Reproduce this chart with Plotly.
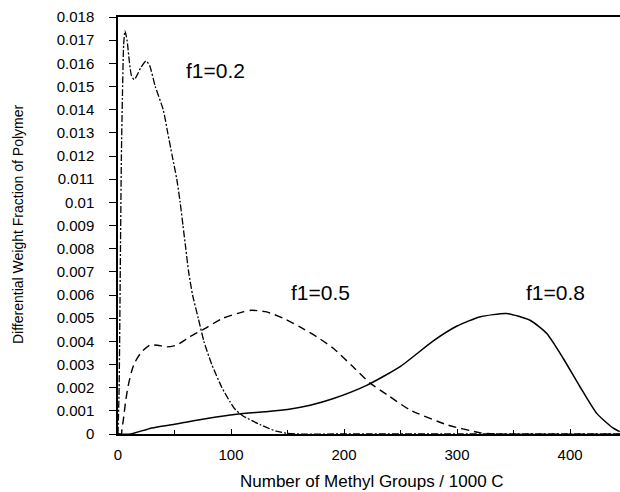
import plotly.graph_objects as go

# f1 = 0.2 (dash-dot)
x_f02 = [0, 1, 2, 3, 4, 5, 6.2, 8, 10, 12, 14.4, 17, 20, 24.8, 28, 33, 40, 44, 48, 52, 55,
         57.5, 60, 62.5, 66, 71, 76, 83, 92, 99, 103, 110, 126, 140, 150, 160, 200, 300, 444]
y_f02 = [0, 0.002, 0.007, 0.012, 0.0148, 0.0168, 0.0174, 0.0170, 0.0161, 0.01545, 0.0153,
         0.0155, 0.0158, 0.0161, 0.0159, 0.0150, 0.0140, 0.0130, 0.0120, 0.0110, 0.0100,
         0.0090, 0.0080, 0.0070, 0.0060, 0.0050, 0.0040, 0.0030, 0.0020, 0.0014, 0.0011,
         0.0008, 0.0004, 0.00012, 0.00003, 0, 0, 0, 0]

# f1 = 0.5 (dashed)
x_f05 = [0, 3, 3.5, 4.7, 7, 9.1, 12, 15, 21, 28.3, 35, 43, 52, 63.7, 75, 93, 110.6, 118,
         131.6, 146, 161, 175.8, 190.5, 208, 223, 238, 258, 291, 320, 335, 444]
y_f05 = [0, 0, 0.0002, 0.0006, 0.0015, 0.0021, 0.0027, 0.0031, 0.00355, 0.00384, 0.00383,
         0.00376, 0.00384, 0.0042, 0.0045, 0.0050, 0.00527, 0.00534, 0.00527, 0.0050,
         0.00462, 0.0042, 0.0037, 0.0029, 0.0022, 0.0017, 0.00105, 0.0004, 0.00006, 0, 0]

# f1 = 0.8 (solid)
x_f08 = [0, 11, 30, 50, 80, 105, 130, 150, 170, 190, 220, 250, 279, 300, 320,
         344, 364.6, 379.4, 394, 408.8, 423.6, 438.3, 444]
y_f08 = [0, 0, 0.00026, 0.00042, 0.00068, 0.00085, 0.00096, 0.00106, 0.00124, 0.00152,
         0.0021, 0.00292, 0.00402, 0.00466, 0.00505, 0.0052, 0.00491, 0.00434, 0.00326,
         0.00204, 0.00089, 0.00025, 0.0001]

y_tick_vals = [0, 0.001, 0.002, 0.003, 0.004, 0.005, 0.006, 0.007, 0.008, 0.009, 0.01,
               0.011, 0.012, 0.013, 0.014, 0.015, 0.016, 0.017, 0.018]
y_tick_text = ["0", "0.001", "0.002", "0.003", "0.004", "0.005", "0.006", "0.007", "0.008",
               "0.009", "0.01", "0.011", "0.012", "0.013", "0.014", "0.015", "0.016",
               "0.017", "0.018"]
x_tick_vals = [0, 100, 200, 300, 400]
x_tick_text = ["0", "100", "200", "300", "400"]

labels = ["f1=0.2", "f1=0.5", "f1=0.8"]
lab_x = [86, 179, 387.5]
lab_y = [0.0157, 0.0061, 0.0061]

FONT = "Liberation Sans, Arial, sans-serif"

fig = go.Figure()
fig.add_trace(go.Scatter(x=x_f02, y=y_f02, mode="lines",
                         line=dict(color="black", width=1.3, dash="7px,2px,2px,2px",
                                   shape="spline", smoothing=0.6)))
fig.add_trace(go.Scatter(x=x_f05, y=y_f05, mode="lines",
                         line=dict(color="black", width=1.4, dash="8px,5px",
                                   shape="spline", smoothing=0.6)))
fig.add_trace(go.Scatter(x=x_f08, y=y_f08, mode="lines",
                         line=dict(color="black", width=1.5,
                                   shape="spline", smoothing=0.6)))

for t, lx, ly in zip(labels, lab_x, lab_y):
    fig.add_annotation(x=lx, y=ly, text=t, showarrow=False,
                       font=dict(family=FONT, size=21, color="black"))

fig.add_annotation(xref="paper", yref="paper", x=(18 - 118) / 502, y=(434 - 225) / 417,
                   xanchor="center", yanchor="middle",
                   text="Differential Weight Fraction of Polymer", textangle=-90,
                   showarrow=False, font=dict(family=FONT, size=14, color="black"))
fig.add_annotation(xref="paper", yref="paper", x=(372 - 118) / 502, y=(434 - 481) / 417,
                   xanchor="center", yanchor="middle",
                   text="Number of Methyl Groups / 1000 C",
                   showarrow=False, font=dict(family=FONT, size=17, color="black"))

fig.update_layout(
    width=620, height=492,
    margin=dict(l=118, r=0, t=17, b=58, autoexpand=False),
    paper_bgcolor="white", plot_bgcolor="white",
    showlegend=False,
    xaxis=dict(range=[0, 444.2], tickvals=x_tick_vals, ticktext=x_tick_text,
               automargin=False,
               ticks="inside", ticklen=5, tickcolor="black", showgrid=False,
               zeroline=False, showline=True, linecolor="black", linewidth=1.5,
               mirror=True, minor=dict(ticks="inside", ticklen=4, dtick=50,
                                        tickcolor="black"),
               tickfont=dict(family=FONT, size=15, color="black"),
               ticklabelstandoff=6),
    yaxis=dict(range=[0, 0.018], tickvals=y_tick_vals, ticktext=y_tick_text,
               automargin=False,
               ticks="outside", ticklen=7, tickcolor="black", showgrid=False,
               zeroline=False, showline=True, linecolor="black", linewidth=1.5,
               tickfont=dict(family=FONT, size=15, color="black"),
               ticklabelstandoff=12),
)

fig.write_html("out.html", config={"displayModeBar": False},
               post_script="document.body.style.margin='0';document.body.style.overflow='hidden';")
